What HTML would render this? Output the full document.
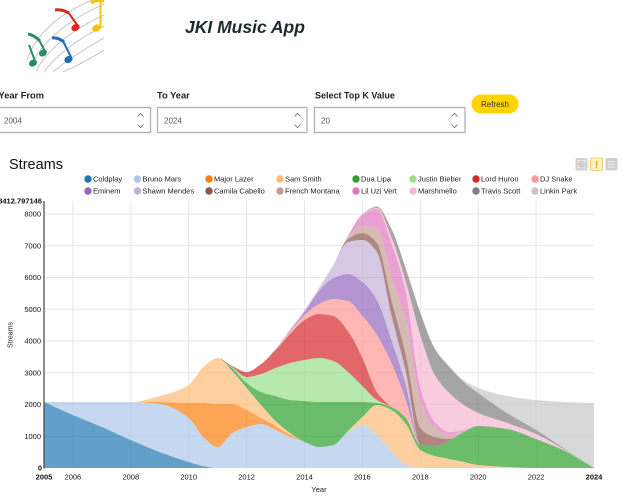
<!DOCTYPE html>
<html>
<head>
<meta charset="utf-8">
<style>
  html, body { margin: 0; padding: 0; background: #ffffff; }
  body { width: 627px; height: 499px; overflow: hidden; }
  svg { display: block; font-family: "Liberation Sans", Arial, sans-serif; }
</style>
</head>
<body>
<svg id="root" width="627" height="499" viewBox="0 0 627 499" xmlns="http://www.w3.org/2000/svg">
  <rect x="0" y="0" width="627" height="499" fill="#ffffff"/>

  <!-- Logo -->
  <g fill="none" stroke="#a0a0a0" stroke-width="0.6">
    <path d="M27,60 Q40,22 92,0"/>
    <path d="M31,66 Q47,30 104,4"/>
    <path d="M36,71 Q54,38 104,15"/>
    <path d="M44,72 Q62,47 104,26"/>
    <path d="M53,72 Q72,56 104,38"/>
    <path d="M63,72 Q82,64 104,50"/>
  </g>
  <path d="M91,3 Q97,-1 104,1" stroke="#f5c400" stroke-width="3" fill="none"/>
  <line x1="100.5" y1="0" x2="100.5" y2="27" stroke="#f5c400" stroke-width="2"/>
  <ellipse cx="96.5" cy="28" rx="4.6" ry="3.4" fill="#f5c400" transform="rotate(-25 96.5 28)"/>
  <path d="M55,10 Q62,9 69,13" stroke="#e0241f" stroke-width="3" fill="none"/>
  <line x1="68" y1="12" x2="78" y2="26" stroke="#e0241f" stroke-width="2"/>
  <ellipse cx="75.5" cy="27.5" rx="4.4" ry="3.3" fill="#e0241f" transform="rotate(-30 75.5 27.5)"/>
  <path d="M52,38 Q58,37 64,42" stroke="#1d6fb8" stroke-width="3" fill="none"/>
  <line x1="63" y1="41" x2="71" y2="57" stroke="#1d6fb8" stroke-width="2"/>
  <ellipse cx="68.5" cy="59.5" rx="4.3" ry="3.4" fill="#1d6fb8" transform="rotate(-30 68.5 59.5)"/>
  <path d="M28,34 Q34,35 40,41" stroke="#2a8c6a" stroke-width="3" fill="none"/>
  <line x1="39" y1="40" x2="45" y2="51" stroke="#2a8c6a" stroke-width="2"/>
  <ellipse cx="43" cy="53" rx="4.2" ry="3.3" fill="#2a8c6a" transform="rotate(-30 43 53)"/>
  <line x1="29" y1="45" x2="35" y2="61" stroke="#2a8c6a" stroke-width="2"/>
  <ellipse cx="33" cy="63" rx="4.2" ry="3.3" fill="#2a8c6a" transform="rotate(-30 33 63)"/>

  <!-- Title -->
  <text x="185" y="33" font-size="17.5" font-weight="bold" font-style="italic" fill="#1c2b2b">JKI Music App</text>

  <!-- Controls -->
  <text x="-1.5" y="98.5" font-size="9.3" font-weight="bold" fill="#222">Year From</text>
  <text x="157" y="98.5" font-size="9.3" font-weight="bold" fill="#222">To Year</text>
  <text x="315" y="98.5" font-size="9" font-weight="bold" fill="#222">Select Top K Value</text>

  <rect x="-1" y="107.5" width="151.5" height="25" fill="#fff" stroke="#b0b0b0" stroke-width="1.3"/>
  <rect x="157.5" y="107.5" width="149.5" height="25" fill="#fff" stroke="#b0b0b0" stroke-width="1.3"/>
  <rect x="314.5" y="107.5" width="150.5" height="25" fill="#fff" stroke="#b0b0b0" stroke-width="1.3"/>
  <text x="4" y="123.5" font-size="8" fill="#555">2004</text>
  <text x="164" y="123.5" font-size="8" fill="#555">2024</text>
  <text x="321" y="123.5" font-size="8" fill="#555">20</text>
  <g fill="none" stroke="#666" stroke-width="0.8">
    <polyline points="137.5,116.5 140.5,113.5 143.5,116.5"/>
    <polyline points="137.5,124.5 140.5,127.5 143.5,124.5"/>
    <polyline points="294.5,116.5 297.5,113.5 300.5,116.5"/>
    <polyline points="294.5,124.5 297.5,127.5 300.5,124.5"/>
    <polyline points="451.5,116.5 454.5,113.5 457.5,116.5"/>
    <polyline points="451.5,124.5 454.5,127.5 457.5,124.5"/>
  </g>

  <rect x="471.5" y="94.5" width="47" height="19" rx="9.5" fill="#ffd400"/>
  <text x="495" y="106.8" font-size="8" text-anchor="middle" fill="#333">Refresh</text>

  <!-- Chart title -->
  <text x="9" y="169" font-size="14.5" fill="#111">Streams</text>

  <!-- Top right icons -->
  <rect x="575.5" y="158" width="12" height="12.5" rx="1.5" fill="#cfcfcf"/>
  <g stroke="#f2f2f2" stroke-width="1" fill="none">
    <polyline points="578,163 578,160.5 580.5,160.5"/>
    <polyline points="582.5,160.5 585,160.5 585,163"/>
    <polyline points="578,165.5 578,168 580.5,168"/>
    <polyline points="582.5,168 585,168 585,165.5"/>
  </g>
  <rect x="590.5" y="158" width="12" height="12.5" rx="1.5" fill="#fff3c4" stroke="#f4c24a" stroke-width="0.8"/>
  <text x="596.5" y="168" font-size="10" font-weight="bold" text-anchor="middle" fill="#f09a00">!</text>
  <rect x="605.5" y="158" width="12" height="12.5" rx="1.5" fill="#cfcfcf"/>
  <g stroke="#f0f0f0" stroke-width="1">
    <line x1="608" y1="161.5" x2="615" y2="161.5"/>
    <line x1="608" y1="164.3" x2="615" y2="164.3"/>
    <line x1="608" y1="167" x2="615" y2="167"/>
  </g>

  <!-- Legend -->
  <g font-size="7.5" fill="#222">
    <circle cx="88" cy="179" r="3.7" fill="#1f77b4"/><text x="93" y="181.7">Coldplay</text>
    <circle cx="137.5" cy="179" r="3.7" fill="#aec7e8"/><text x="142.5" y="181.7">Bruno Mars</text>
    <circle cx="209" cy="179" r="3.7" fill="#ff7f0e"/><text x="214" y="181.7">Major Lazer</text>
    <circle cx="280" cy="179" r="3.7" fill="#ffbb78"/><text x="285" y="181.7">Sam Smith</text>
    <circle cx="356" cy="179" r="3.7" fill="#2ca02c"/><text x="361" y="181.7">Dua Lipa</text>
    <circle cx="413" cy="179" r="3.7" fill="#98df8a"/><text x="418" y="181.7">Justin Bieber</text>
    <circle cx="476" cy="179" r="3.7" fill="#d62728"/><text x="481" y="181.7">Lord Huron</text>
    <circle cx="535" cy="179" r="3.7" fill="#ff9896"/><text x="540" y="181.7">DJ Snake</text>

    <circle cx="88" cy="191" r="3.7" fill="#9467bd"/><text x="93" y="193.7">Eminem</text>
    <circle cx="137.5" cy="191" r="3.7" fill="#c5b0d5"/><text x="142.5" y="193.7">Shawn Mendes</text>
    <circle cx="209" cy="191" r="3.7" fill="#8c564b"/><text x="214" y="193.7">Camila Cabello</text>
    <circle cx="280" cy="191" r="3.7" fill="#c49c94"/><text x="285" y="193.7">French Montana</text>
    <circle cx="356" cy="191" r="3.7" fill="#e377c2"/><text x="361" y="193.7">Lil Uzi Vert</text>
    <circle cx="413" cy="191" r="3.7" fill="#f7b6d2"/><text x="418" y="193.7">Marshmello</text>
    <circle cx="476" cy="191" r="3.7" fill="#7f7f7f"/><text x="481" y="193.7">Travis Scott</text>
    <circle cx="535" cy="191" r="3.7" fill="#c7c7c7"/><text x="540" y="193.7">Linkin Park</text>
  </g>

  <!-- Grid -->
  <g stroke="#e5e5e5" stroke-width="1">
    <line x1="72.9" y1="201" x2="72.9" y2="468"/>
    <line x1="130.8" y1="201" x2="130.8" y2="468"/>
    <line x1="188.7" y1="201" x2="188.7" y2="468"/>
    <line x1="246.6" y1="201" x2="246.6" y2="468"/>
    <line x1="304.5" y1="201" x2="304.5" y2="468"/>
    <line x1="362.4" y1="201" x2="362.4" y2="468"/>
    <line x1="420.3" y1="201" x2="420.3" y2="468"/>
    <line x1="478.2" y1="201" x2="478.2" y2="468"/>
    <line x1="536.1" y1="201" x2="536.1" y2="468"/>
    <line x1="44" y1="436.25" x2="594" y2="436.25"/>
    <line x1="44" y1="404.5" x2="594" y2="404.5"/>
    <line x1="44" y1="372.75" x2="594" y2="372.75"/>
    <line x1="44" y1="341" x2="594" y2="341"/>
    <line x1="44" y1="309.25" x2="594" y2="309.25"/>
    <line x1="44" y1="277.5" x2="594" y2="277.5"/>
    <line x1="44" y1="245.75" x2="594" y2="245.75"/>
    <line x1="44" y1="214" x2="594" y2="214"/>
  </g>

  <!-- Areas -->
  <g id="areas"></g>

  <!-- Y axis -->
  <line x1="44" y1="201" x2="44" y2="468.5" stroke="#444" stroke-width="1.2"/>
  <g font-size="7.5" fill="#111" text-anchor="end">
    <text x="42" y="203.6" font-weight="bold">8412.797146</text>
    <text x="41" y="216.6">8000</text>
    <text x="41" y="248.4">7000</text>
    <text x="41" y="280.1">6000</text>
    <text x="41" y="311.9">5000</text>
    <text x="41" y="343.6">4000</text>
    <text x="41" y="375.4">3000</text>
    <text x="41" y="407.1">2000</text>
    <text x="41" y="438.9">1000</text>
    <text x="42" y="470.6" font-weight="bold">0</text>
  </g>
  <text transform="translate(12.5,335) rotate(-90)" font-size="7" text-anchor="middle" fill="#222">Streams</text>

  <!-- X axis -->
  <g font-size="7.5" fill="#111" text-anchor="middle">
    <text x="44" y="479.5" font-weight="bold">2005</text>
    <text x="72.9" y="479.5">2006</text>
    <text x="130.8" y="479.5">2008</text>
    <text x="188.7" y="479.5">2010</text>
    <text x="246.6" y="479.5">2012</text>
    <text x="304.5" y="479.5">2014</text>
    <text x="362.4" y="479.5">2016</text>
    <text x="420.3" y="479.5">2018</text>
    <text x="478.2" y="479.5">2020</text>
    <text x="536.1" y="479.5">2022</text>
    <text x="594" y="479.5" font-weight="bold">2024</text>
  </g>
  <text x="319" y="491.8" font-size="7.5" text-anchor="middle" fill="#222">Year</text>
</svg>

<script>
(function(){
  var X = 999;
  var yrs = [2005,2006,2007,2008,2009,2010,2010.5,2011,2011.5,2012,2012.5,2013,2013.5,2014,2014.5,2015,2015.5,2016,2016.5,2017,2017.5,2018,2018.5,2019,2019.5,2020,2021,2022,2023,2024];
  var xs = yrs.map(function(y){ return 44 + (y-2005)*550/19; });
  function fill(prefixCount, arr){ var a=[]; for(var i=0;i<prefixCount;i++) a.push(X); a=a.concat(arr); while(a.length<30) a.push(X); return a; }
  var spec = [
    [402,415,427,440,452,462,466,468,468,468,468,468,468,468,468,468,468,468,468,468,468,468,468,468,468,468,468,468,468,468],
    [402,402,402,402,404,418,437,447,433,427,424,430,437,442,447,445,432,425,435,451,465,468,468,468,468,468,468,468,468,468],
    fill(0,[402,402,402,402,402,403,403,404,404,410,418,426,435,442]),
    [402,402,402,402,396,385,367,358,371,388,405,421,433,442,447,445,431,417,405,410,424,450,456,459,462,465,467,468,468,468],
    fill(8,[368,383,392,396,400,401,402,402,402,402,403,407,418,445,446,441,432,426,429,439,451,468]),
    fill(8,[367,377,374,368,363,360,358,361,372,386,400]),
    fill(8,[366,372,364,350,334,320,314,316,331,358,392]),
    fill(11,[349,331,315,304,299,301,316,335,363,400]),
    fill(12,[330,312,291,278,274,282,300,340,385]),
    fill(12,[330,310,288,265,242,240,252,315,372]),
    fill(16,[239,233,243,300,355,428,437,439]),
    fill(16,[237,226,228,277,320,400,428,435,431]),
    fill(16,[236,215,209,243,292,388,422,432,430]),
    fill(17,[214.5,208,237,282,335,375,393,405,413,423,434,450]),
    fill(17,[214,207,229,269,313,349,367,382,393,413,430,449]),
    fill(17,[214,206,228,268,312,348,366,380,388,396,400,402,403])
  ];
  var cols = ["#1f77b4","#aec7e8","#ff7f0e","#ffbb78","#2ca02c","#98df8a","#d62728","#ff9896","#9467bd","#c5b0d5","#8c564b","#c49c94","#e377c2","#f7b6d2","#7f7f7f","#c7c7c7"];
  var N = xs.length;
  var prev = []; for (var i=0;i<N;i++) prev.push(468);
  var res = [];
  spec.forEach(function(s){
    var r = s.map(function(v,i){ return Math.min(v, prev[i]); });
    res.push(r); prev = r;
  });
  var th = []; prev = []; for (i=0;i<N;i++) prev.push(468);
  res.forEach(function(r){
    th.push(r.map(function(v,i){ return prev[i]-v; })); prev = r;
  });
  function seg(x){ var i = 0; while (i < N-2 && x > xs[i+1]) i++; return i; }
  function mono(ys){
    var n = ys.length, d = [], m = [];
    for (var i=0;i<n-1;i++) d.push((ys[i+1]-ys[i])/(xs[i+1]-xs[i]));
    m[0] = d[0]; m[n-1] = d[n-2];
    for (i=1;i<n-1;i++){
      if (d[i-1]*d[i] <= 0) m[i] = 0;
      else {
        var h0 = xs[i]-xs[i-1], h1 = xs[i+1]-xs[i];
        var w1 = 2*h1+h0, w2 = h1+2*h0;
        m[i] = (w1+w2)/(w1/d[i-1] + w2/d[i]);
      }
    }
    if (d[0]*m[1] < 0) m[0] = 0;
    if (d[n-2]*m[n-2] < 0) m[n-1] = 0;
    return function(x){
      var i = seg(x);
      var h = xs[i+1]-xs[i], t = (x-xs[i])/h, t2 = t*t, t3 = t2*t;
      return (2*t3-3*t2+1)*ys[i] + (t3-2*t2+t)*h*m[i] + (-2*t3+3*t2)*ys[i+1] + (t3-t2)*h*m[i+1];
    };
  }
  var sx = []; for (var x=44; x<=594; x+=1) sx.push(x);
  var base = sx.map(function(){ return 468; });
  var g = document.getElementById('areas');
  var NS = "http://www.w3.org/2000/svg";
  res.forEach(function(r, li){
    var f = mono(r);
    var tt = th[li];
    var top = sx.map(function(x,j){
      var s = seg(x);
      if (tt[s] <= 0.01 && tt[s+1] <= 0.01) return base[j];
      var v = f(x);
      return Math.min(v, base[j]);
    });
    var d = "M" + sx.map(function(x,j){ return x + "," + top[j].toFixed(2); }).join("L");
    for (var j=sx.length-1;j>=0;j--) d += "L" + sx[j] + "," + base[j].toFixed(2);
    d += "Z";
    var p = document.createElementNS(NS, "path");
    p.setAttribute("d", d);
    p.setAttribute("fill", cols[li]);
    p.setAttribute("fill-opacity", "0.7");
    g.appendChild(p);
    base = top;
  });
})();
</script>
</body>
</html>
